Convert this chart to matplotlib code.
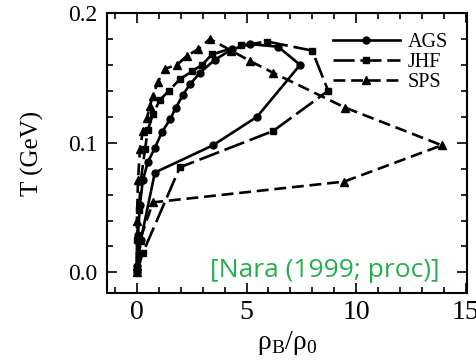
import numpy as np
import matplotlib
matplotlib.use("Agg")
import matplotlib.pyplot as plt
from matplotlib.ticker import MultipleLocator

plt.rcParams['font.family'] = ['Liberation Serif', 'DejaVu Serif']
plt.rcParams['mathtext.fontset'] = 'custom'
plt.rcParams['mathtext.rm'] = 'Liberation Serif'

# AGS trajectory (rho_B/rho_0, T)
ags_rho = [0, 0.18, 0.82, 3.47, 5.48, 7.44, 6.44, 5.16, 4.34, 3.56, 2.88, 2.42,
           2.10, 1.78, 1.51, 1.14, 0.82, 0.50, 0.27, 0.14, 0.05, 0.0]
ags_T = [0, 0.025, 0.077, 0.098, 0.120, 0.160, 0.174, 0.176, 0.172, 0.164, 0.154, 0.145,
         0.137, 0.127, 0.118, 0.108, 0.096, 0.085, 0.071, 0.052, 0.029, 0.005]

# JHF trajectory
jhf_rho = [0, 0.27, 1.96, 6.21, 8.72, 7.99, 5.94, 4.75, 3.42, 2.97, 2.51, 1.96, 1.46,
           1.05, 0.73, 0.50, 0.37, 0.18, 0.09, 0.0, 0.0]
jhf_T = [0, 0.015, 0.081, 0.109, 0.140, 0.171, 0.178, 0.175, 0.168, 0.160, 0.155, 0.149,
         0.140, 0.133, 0.122, 0.110, 0.095, 0.071, 0.048, 0.025, 0.003]

# SPS trajectory
sps_rho = [0, 0.14, 0.73, 9.45, 13.9, 9.5, 6.2, 5.16, 4.3, 3.33, 2.79, 2.28, 1.83, 1.28,
           0.96, 0.73, 0.59, 0.46, 0.27, 0.14, 0.05, 0.0, 0.0]
sps_T = [0, 0.025, 0.054, 0.070, 0.098, 0.127, 0.154, 0.163, 0.171, 0.180, 0.172, 0.167,
         0.160, 0.157, 0.147, 0.136, 0.128, 0.119, 0.109, 0.095, 0.071, 0.040, 0.005]

fig = plt.figure(figsize=(4.77, 3.61), dpi=100)
ax = fig.add_axes([0.224, 0.188, 0.755, 0.776])

lw = 1.9
ax.plot(ags_rho, ags_T, color='black', lw=lw, marker='o', ms=5, label='AGS')
ax.plot(jhf_rho, jhf_T, color='black', lw=lw, marker='s', ms=5,
        dashes=(8, 2.2), label='JHF')
ax.plot(sps_rho, sps_T, color='black', lw=lw, marker='^', ms=5.5,
        dashes=(4.5, 2.2), label='SPS')

ax.set_xlim(-1.37, 15.05)
ax.set_ylim(-0.016, 0.2)
ax.xaxis.set_minor_locator(MultipleLocator(1))
ax.yaxis.set_minor_locator(MultipleLocator(0.02))
ax.set_xticks([0, 5, 10, 15])
ax.set_xticklabels(['0', '5', '10', '15'])
ax.set_yticks([0.0, 0.1, 0.2])
ax.set_yticklabels(['0.0', '0.1', '0.2'])
ax.tick_params(which='both', direction='in', top=True, right=True, width=1.2)
ax.tick_params(which='major', length=7, pad=7)
ax.tick_params(which='minor', length=4)
ax.tick_params(axis='x', labelsize=20, pad=5)
ax.tick_params(axis='y', labelsize=17)
for s in ax.spines.values():
    s.set_linewidth(1.5)

ax.set_xlabel(r'ρ$_{\rm B}$/ρ$_0$', fontsize=20, labelpad=3)
ax.set_ylabel('T (GeV)', fontsize=18, labelpad=17)

ax.legend(loc='upper right', bbox_to_anchor=(0.975, 0.965), frameon=False, fontsize=14.5,
          handlelength=3.3, labelspacing=0.05, borderpad=0, handletextpad=0.4)

ax.text(0.286, 0.057, '[Nara (1999; proc)]', transform=ax.transAxes, color='#22b14c',
        fontsize=19, family=['Open Sans', 'DejaVu Sans'], ha='left', va='baseline')

fig.savefig('out.png', dpi=100)
